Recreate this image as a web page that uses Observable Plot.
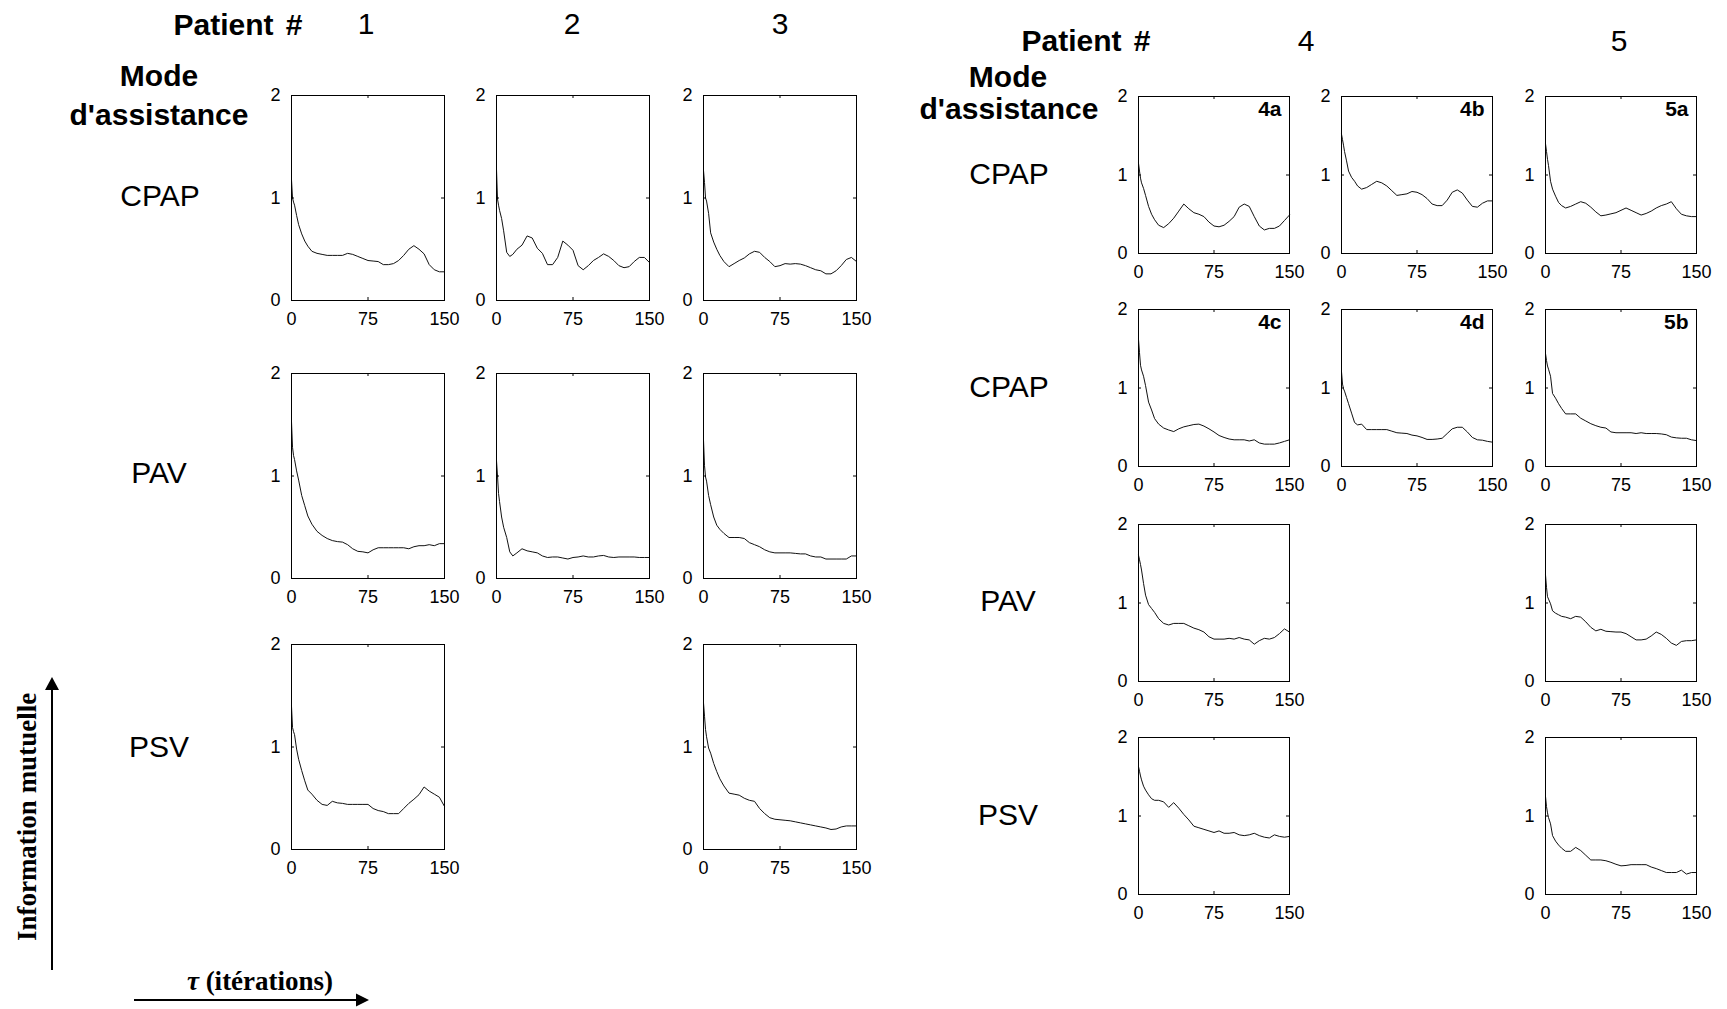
<!DOCTYPE html>
<html lang="fr">
<head>
<meta charset="utf-8">
<script src="https://cdn.jsdelivr.net/npm/d3@7"></script>
<script src="https://cdn.jsdelivr.net/npm/@observablehq/plot@0.6"></script>
<style>
  body { margin: 0; background: #fff; }
  #fig { position: relative; width: 1727px; height: 1009px; overflow: hidden; background: #fff;
         font-family: "Liberation Sans", Arial, sans-serif; color: #000; }
  .lbl { position: absolute; transform: translate(-50%, -50%); white-space: nowrap;
         font-size: 30px; line-height: 1; }
  .b { font-weight: bold; }
  .wide { word-spacing: 4px; }
  .serif { font-family: "Liberation Serif", "Times New Roman", serif; font-weight: bold; font-size: 27px; }
  .panel { position: absolute; }
  #arrows { position: absolute; left: 0; top: 0; }
</style>
</head>
<body>
<div id="fig"></div>
<script>
// Lag τ (iterations) at which the mutual information was sampled
const tau = [0, 1, 2, 3, 5, 7, 10, 13, 16, 20, 25, 30, 35, 40, 45, 50, 55, 60, 65, 70, 75, 80, 85,
             90, 95, 100, 105, 110, 115, 120, 125, 130, 135, 140, 145, 150];

// Axis ticks
const xTicks = [0, 75, 150];
const yTicks = [0, 1, 2];

// Mutual information curves, one per patient and ventilation mode
const p1CPAP = [1.18, 1.0, 0.96, 0.93, 0.83, 0.74, 0.65, 0.58, 0.53, 0.48, 0.46, 0.45, 0.44, 0.44, 0.44, 0.44, 0.46, 0.45,
                0.43, 0.41, 0.39, 0.385, 0.38, 0.35, 0.35, 0.36, 0.39, 0.44, 0.50, 0.535, 0.50, 0.455, 0.35, 0.30, 0.28, 0.28];
const p2CPAP = [1.28, 0.99, 0.93, 0.88, 0.80, 0.68, 0.47, 0.43, 0.45, 0.50, 0.54, 0.63, 0.61, 0.51, 0.46, 0.35, 0.35, 0.42,
                0.58, 0.54, 0.49, 0.34, 0.30, 0.34, 0.39, 0.42, 0.455, 0.43, 0.39, 0.34, 0.32, 0.33, 0.38, 0.42, 0.42, 0.37];
const p3CPAP = [1.27, 1.15, 1.0, 0.97, 0.85, 0.66, 0.57, 0.50, 0.44, 0.38, 0.33, 0.36, 0.39, 0.415, 0.455, 0.48, 0.47, 0.42,
                0.38, 0.33, 0.34, 0.36, 0.355, 0.36, 0.355, 0.34, 0.32, 0.30, 0.29, 0.26, 0.26, 0.29, 0.34, 0.40, 0.42, 0.38];
const p1PAV  = [1.53, 1.28, 1.2, 1.16, 1.05, 0.96, 0.81, 0.71, 0.61, 0.53, 0.46, 0.42, 0.39, 0.37, 0.36, 0.355, 0.33, 0.29,
                0.265, 0.26, 0.25, 0.28, 0.30, 0.30, 0.30, 0.30, 0.30, 0.30, 0.29, 0.31, 0.32, 0.32, 0.33, 0.32, 0.34, 0.34];
const p2PAV  = [1.15, 1.0, 0.83, 0.75, 0.60, 0.50, 0.40, 0.26, 0.22, 0.25, 0.29, 0.27, 0.26, 0.25, 0.22, 0.205, 0.21, 0.21,
                0.20, 0.19, 0.205, 0.21, 0.22, 0.21, 0.21, 0.22, 0.225, 0.21, 0.205, 0.21, 0.21, 0.21, 0.21, 0.205, 0.205, 0.205];
const p3PAV  = [1.35, 1.1, 0.99, 0.95, 0.81, 0.72, 0.60, 0.52, 0.48, 0.44, 0.40, 0.40, 0.40, 0.39, 0.35, 0.33, 0.31, 0.28,
                0.26, 0.25, 0.25, 0.25, 0.25, 0.245, 0.24, 0.24, 0.22, 0.21, 0.21, 0.19, 0.19, 0.19, 0.19, 0.19, 0.22, 0.22];
const p1PSV  = [1.40, 1.19, 1.15, 1.12, 0.98, 0.88, 0.77, 0.67, 0.58, 0.54, 0.48, 0.44, 0.43, 0.47, 0.455, 0.45, 0.44, 0.44,
                0.44, 0.44, 0.44, 0.40, 0.38, 0.37, 0.35, 0.35, 0.35, 0.40, 0.45, 0.49, 0.535, 0.61, 0.57, 0.54, 0.51, 0.42];
const p3PSV  = [1.43, 1.3, 1.17, 1.1, 0.99, 0.94, 0.84, 0.76, 0.69, 0.62, 0.55, 0.54, 0.53, 0.50, 0.48, 0.47, 0.40, 0.35,
                0.31, 0.295, 0.29, 0.285, 0.28, 0.27, 0.26, 0.25, 0.24, 0.23, 0.22, 0.21, 0.195, 0.20, 0.22, 0.23, 0.23, 0.23];
const p4aCPAP = [1.15, 1.05, 0.96, 0.90, 0.83, 0.74, 0.60, 0.50, 0.43, 0.36, 0.33, 0.38, 0.45, 0.54, 0.63, 0.57, 0.52, 0.50,
                 0.47, 0.40, 0.35, 0.34, 0.36, 0.41, 0.47, 0.59, 0.63, 0.60, 0.47, 0.35, 0.30, 0.32, 0.32, 0.35, 0.42, 0.49];
const p4bCPAP = [1.52, 1.45, 1.38, 1.30, 1.18, 1.05, 0.97, 0.92, 0.86, 0.82, 0.84, 0.88, 0.92, 0.90, 0.86, 0.80, 0.74, 0.75,
                 0.76, 0.79, 0.78, 0.75, 0.70, 0.63, 0.61, 0.61, 0.68, 0.78, 0.81, 0.77, 0.68, 0.60, 0.59, 0.64, 0.67, 0.67];
const p5aCPAP = [1.40, 1.30, 1.20, 1.12, 0.92, 0.82, 0.73, 0.65, 0.61, 0.58, 0.60, 0.63, 0.66, 0.64, 0.59, 0.53, 0.48, 0.49,
                 0.505, 0.52, 0.55, 0.58, 0.55, 0.52, 0.49, 0.51, 0.54, 0.58, 0.61, 0.63, 0.66, 0.57, 0.50, 0.48, 0.47, 0.47];
const p4cCPAP = [1.62, 1.45, 1.29, 1.23, 1.15, 1.03, 0.82, 0.72, 0.61, 0.54, 0.49, 0.465, 0.445, 0.48, 0.505, 0.52, 0.535, 0.54,
                 0.515, 0.48, 0.44, 0.395, 0.37, 0.35, 0.34, 0.34, 0.34, 0.325, 0.34, 0.30, 0.285, 0.285, 0.285, 0.30, 0.32, 0.34];
const p4dCPAP = [1.21, 1.05, 0.99, 0.96, 0.88, 0.80, 0.68, 0.56, 0.53, 0.54, 0.47, 0.47, 0.47, 0.47, 0.47, 0.45, 0.43, 0.425,
                 0.42, 0.40, 0.39, 0.37, 0.345, 0.345, 0.35, 0.36, 0.42, 0.48, 0.50, 0.50, 0.44, 0.37, 0.34, 0.335, 0.32, 0.31];
const p5bCPAP = [1.44, 1.35, 1.28, 1.24, 1.15, 0.93, 0.87, 0.80, 0.74, 0.67, 0.67, 0.67, 0.615, 0.58, 0.545, 0.52, 0.50, 0.49,
                 0.44, 0.43, 0.43, 0.43, 0.43, 0.42, 0.43, 0.42, 0.42, 0.42, 0.415, 0.405, 0.375, 0.365, 0.36, 0.36, 0.34, 0.33];
const p4PAV  = [1.61, 1.55, 1.49, 1.42, 1.25, 1.10, 0.98, 0.93, 0.88, 0.80, 0.74, 0.72, 0.74, 0.74, 0.74, 0.71, 0.68, 0.66,
                0.63, 0.57, 0.54, 0.54, 0.54, 0.55, 0.54, 0.56, 0.54, 0.53, 0.475, 0.52, 0.55, 0.54, 0.56, 0.61, 0.67, 0.63];
const p5PAV  = [1.36, 1.2, 1.08, 1.05, 0.99, 0.90, 0.87, 0.85, 0.83, 0.82, 0.80, 0.83, 0.82, 0.76, 0.69, 0.645, 0.665, 0.64,
                0.635, 0.63, 0.63, 0.61, 0.57, 0.53, 0.53, 0.54, 0.58, 0.63, 0.60, 0.55, 0.49, 0.46, 0.51, 0.52, 0.52, 0.53];
const p4PSV  = [1.63, 1.57, 1.51, 1.46, 1.38, 1.33, 1.27, 1.22, 1.20, 1.20, 1.18, 1.11, 1.17, 1.10, 1.02, 0.95, 0.87, 0.85,
                0.83, 0.81, 0.79, 0.81, 0.78, 0.78, 0.79, 0.76, 0.75, 0.76, 0.78, 0.75, 0.73, 0.72, 0.76, 0.74, 0.73, 0.74];
const p5PSV  = [1.25, 1.12, 1.04, 0.98, 0.90, 0.75, 0.68, 0.63, 0.59, 0.55, 0.55, 0.60, 0.56, 0.50, 0.44, 0.44, 0.44, 0.43,
                0.41, 0.385, 0.365, 0.37, 0.38, 0.38, 0.38, 0.38, 0.35, 0.33, 0.305, 0.28, 0.28, 0.28, 0.31, 0.26, 0.28, 0.28];

// Layout of the two panel grids (frame position and size in px)
const leftGrid  = {cols: [291, 496, 703], rows: [95, 373, 644], w: 153, h: 205};
const rightGrid = {cols: [1138, 1341, 1545], rows: [96, 309, 524, 737], w: 151, h: 157};

const panels = [
  {values: p1CPAP, grid: leftGrid, c: 0, r: 0},
  {values: p2CPAP, grid: leftGrid, c: 1, r: 0},
  {values: p3CPAP, grid: leftGrid, c: 2, r: 0},
  {values: p1PAV,  grid: leftGrid, c: 0, r: 1},
  {values: p2PAV,  grid: leftGrid, c: 1, r: 1},
  {values: p3PAV,  grid: leftGrid, c: 2, r: 1},
  {values: p1PSV,  grid: leftGrid, c: 0, r: 2},
  {values: p3PSV,  grid: leftGrid, c: 2, r: 2},
  {values: p4aCPAP, grid: rightGrid, c: 0, r: 0, tag: "4a"},
  {values: p4bCPAP, grid: rightGrid, c: 1, r: 0, tag: "4b"},
  {values: p5aCPAP, grid: rightGrid, c: 2, r: 0, tag: "5a"},
  {values: p4cCPAP, grid: rightGrid, c: 0, r: 1, tag: "4c"},
  {values: p4dCPAP, grid: rightGrid, c: 1, r: 1, tag: "4d"},
  {values: p5bCPAP, grid: rightGrid, c: 2, r: 1, tag: "5b"},
  {values: p4PAV,  grid: rightGrid, c: 0, r: 2},
  {values: p5PAV,  grid: rightGrid, c: 2, r: 2},
  {values: p4PSV,  grid: rightGrid, c: 0, r: 3},
  {values: p5PSV,  grid: rightGrid, c: 2, r: 3}
];

// Text labels: [text, centre x, centre y, class]
const labels = [
  ["Patient #", 238, 25, "b wide"], ["1", 366, 24, ""], ["2", 572, 24, ""], ["3", 780, 24, ""],
  ["Mode", 159, 76, "b"], ["d'assistance", 159, 115, "b"],
  ["CPAP", 160, 196, ""], ["PAV", 159, 473, ""], ["PSV", 159, 747, ""],
  ["Patient #", 1086, 41, "b wide"], ["4", 1306, 41, ""], ["5", 1619, 41, ""],
  ["Mode", 1008, 77, "b"], ["d'assistance", 1009, 109, "b"],
  ["CPAP", 1009, 174, ""], ["CPAP", 1009, 387, ""], ["PAV", 1008, 601, ""], ["PSV", 1008, 815, ""]
];

const fig = document.getElementById("fig");
const tickFont = `"Liberation Sans Narrow", "Arial Narrow", "Liberation Sans", Arial, sans-serif`;

function drawPanel({values, grid, c, r, tag}) {
  const {w, h} = grid;
  const ml = 34, mr = 8, mt = 6, mb = 32;
  const data = tau.map((t, i) => ({tau: t, mi: values[i]}));
  const svg = Plot.plot({
    width: ml + w + mr, height: mt + h + mb,
    marginLeft: ml, marginRight: mr, marginTop: mt, marginBottom: mb,
    x: {domain: [0, 150]},
    y: {domain: [0, 2]},
    style: {fontFamily: tickFont, fontSize: "18px", color: "#000", background: "transparent", overflow: "visible"},
    marks: [
      Plot.line(data, {x: "tau", y: "mi", stroke: "#111", strokeWidth: 1}),
      Plot.frame({stroke: "#000"}),
      // MATLAB-style inward ticks on all four sides
      Plot.tickX(xTicks, {x: d => d, insetTop: h - 3, stroke: "#000"}),
      Plot.tickX(xTicks, {x: d => d, insetBottom: h - 3, stroke: "#000"}),
      Plot.tickY(yTicks, {y: d => d, insetRight: w - 3, stroke: "#000"}),
      Plot.tickY(yTicks, {y: d => d, insetLeft: w - 3, stroke: "#000"}),
      Plot.axisX({ticks: xTicks, tickSize: 0, tickPadding: 12, tickFormat: d3.format("d"), label: null}),
      Plot.axisY({ticks: yTicks, tickSize: 0, tickPadding: 11, tickFormat: d3.format("d"), label: null}),
      tag ? Plot.text([tag], {frameAnchor: "top-right", dx: -8, dy: 5, lineAnchor: "top", textAnchor: "end",
                              fontWeight: "bold", fontSize: 21, fontFamily: `"Liberation Sans", Arial, sans-serif`}) : null
    ]
  });
  const div = document.createElement("div");
  div.className = "panel";
  div.style.left = (grid.cols[c] - ml) + "px";
  div.style.top = (grid.rows[r] - mt) + "px";
  div.appendChild(svg);
  fig.appendChild(div);
}

panels.forEach(drawPanel);

for (const [text, x, y, cls] of labels) {
  const d = document.createElement("div");
  d.className = "lbl " + cls;
  d.style.left = x + "px";
  d.style.top = y + "px";
  d.textContent = text;
  fig.appendChild(d);
}

// Axis captions with their arrows (bottom-left)
const ns = "http://www.w3.org/2000/svg";
const arr = document.createElementNS(ns, "svg");
arr.setAttribute("id", "arrows");
arr.setAttribute("width", 1727);
arr.setAttribute("height", 1009);
arr.innerHTML = `
  <line x1="52" y1="970" x2="52" y2="689" stroke="#000" stroke-width="2"/>
  <polygon points="45,690 59,690 52,677" fill="#000"/>
  <line x1="134" y1="1000" x2="357" y2="1000" stroke="#000" stroke-width="2"/>
  <polygon points="356,993.5 356,1006.5 369,1000" fill="#000"/>`;
fig.appendChild(arr);

const yCap = document.createElement("div");
yCap.className = "lbl serif";
yCap.style.left = "27px";
yCap.style.top = "817px";
yCap.style.transform = "translate(-50%, -50%) rotate(-90deg)";
yCap.textContent = "Information mutuelle";
fig.appendChild(yCap);

const xCap = document.createElement("div");
xCap.className = "lbl serif";
xCap.style.left = "260px";
xCap.style.top = "981px";
xCap.innerHTML = "<i>τ</i> (itérations)";
fig.appendChild(xCap);
</script>
</body>
</html>
